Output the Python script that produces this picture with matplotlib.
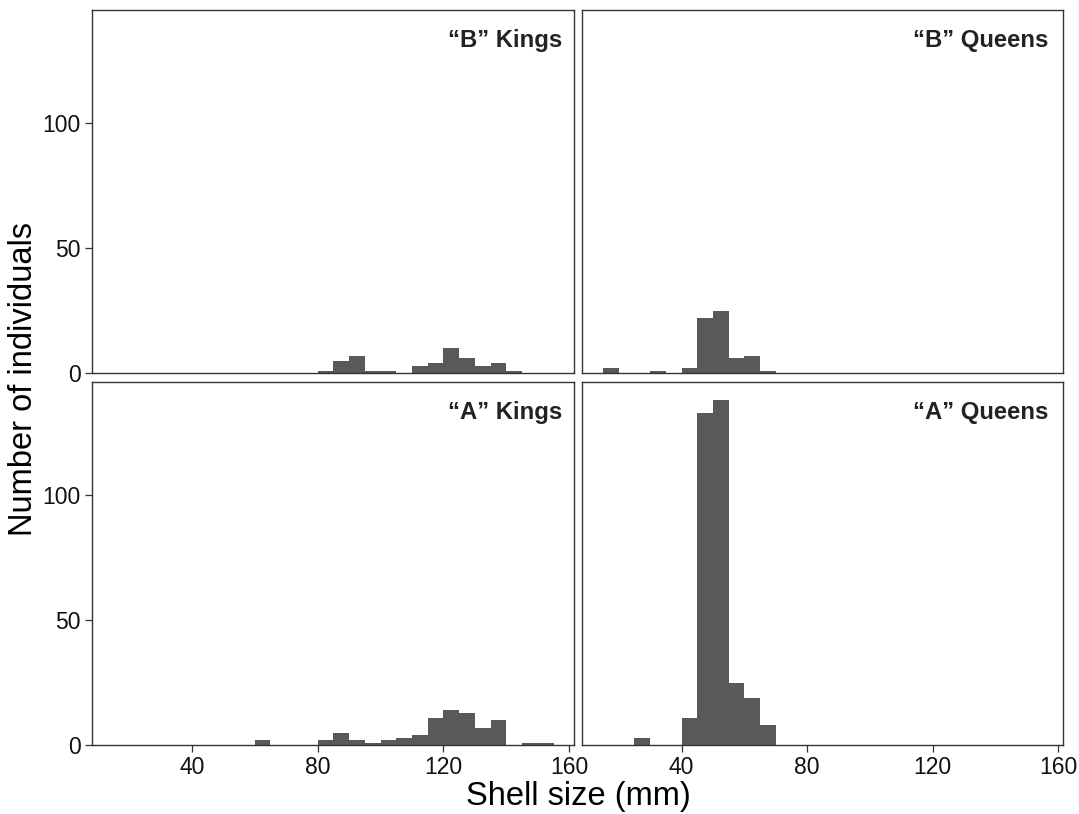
import numpy as np
import matplotlib
matplotlib.use('Agg')
import matplotlib.pyplot as plt

plt.rcParams['font.family'] = ['Liberation Sans', 'DejaVu Sans']

# histogram bins (mm), 5 mm wide, from 15 to 155
bin_edges = list(range(15, 160, 5))

# counts per bin
b_kings = [0, 0, 0, 0, 0, 0, 0, 0, 0, 0, 0, 0, 0,
           1, 5, 7, 1, 1, 0, 3, 4, 10, 6, 3, 4, 1, 0, 0]
b_queens = [2, 0, 0, 1, 0, 2, 22, 25, 6, 7, 1, 0, 0,
            0, 0, 0, 0, 0, 0, 0, 0, 0, 0, 0, 0, 0, 0, 0]
a_kings = [0, 0, 0, 0, 0, 0, 0, 0, 0, 2, 0, 0, 0,
           2, 5, 2, 1, 2, 3, 4, 11, 14, 13, 7, 10, 0, 1, 1]
a_queens = [0, 0, 3, 0, 0, 11, 133, 138, 25, 19, 8, 0, 0,
            0, 0, 0, 0, 0, 0, 0, 0, 0, 0, 0, 0, 0, 0, 0]

panels = [
    ('\u201cB\u201d Kings', b_kings),
    ('\u201cB\u201d Queens', b_queens),
    ('\u201cA\u201d Kings', a_kings),
    ('\u201cA\u201d Queens', a_queens),
]

x_ticks = [40, 80, 120, 160]
y_ticks = [0, 50, 100]

W, H = 1079, 814
fig = plt.figure(figsize=(W / 100, H / 100), dpi=100)

# panel boxes in pixels: left, top, right, bottom
boxes = [(92, 10, 574, 373), (582, 10, 1063, 373),
         (92, 382, 574, 745), (582, 382, 1063, 745)]

edges = np.array(bin_edges)
for i, ((label, counts), (l, t, r, b)) in enumerate(zip(panels, boxes)):
    ax = fig.add_axes([l / W, 1 - b / H, (r - l) / W, (b - t) / H])
    ax.bar(edges[:-1], counts, width=5, align='edge', color='#595959',
           edgecolor='none')
    ax.set_xlim(8.3, 161.5)
    ax.set_ylim(0, 145.2)
    for s in ax.spines.values():
        s.set_color('#333333')
        s.set_linewidth(1.0)
    ax.set_xticks(x_ticks)
    ax.set_yticks(y_ticks)
    ax.tick_params(length=5, width=0.9, color='#333333', labelsize=16.5,
                   labelcolor='#111111', pad=3)
    if i < 2:
        ax.tick_params(axis='x', bottom=False, labelbottom=False)
    if i % 2 == 1:
        ax.tick_params(axis='y', left=False, labelleft=False)
    xr = 0.975 if 'Kings' in label else 0.97
    ax.text(xr, 0.948, label, transform=ax.transAxes, ha='right', va='top',
            fontsize=17.2, fontweight='bold', color='#222222')

fig.text(578 / W, 1 - 796 / H, 'Shell size (mm)', ha='center', va='center',
         fontsize=23.5)
fig.text(24 / W, 1 - 379 / H, 'Number of individuals', ha='center',
         va='center', rotation=90, fontsize=23.5)

fig.savefig('out.png', dpi=100)
